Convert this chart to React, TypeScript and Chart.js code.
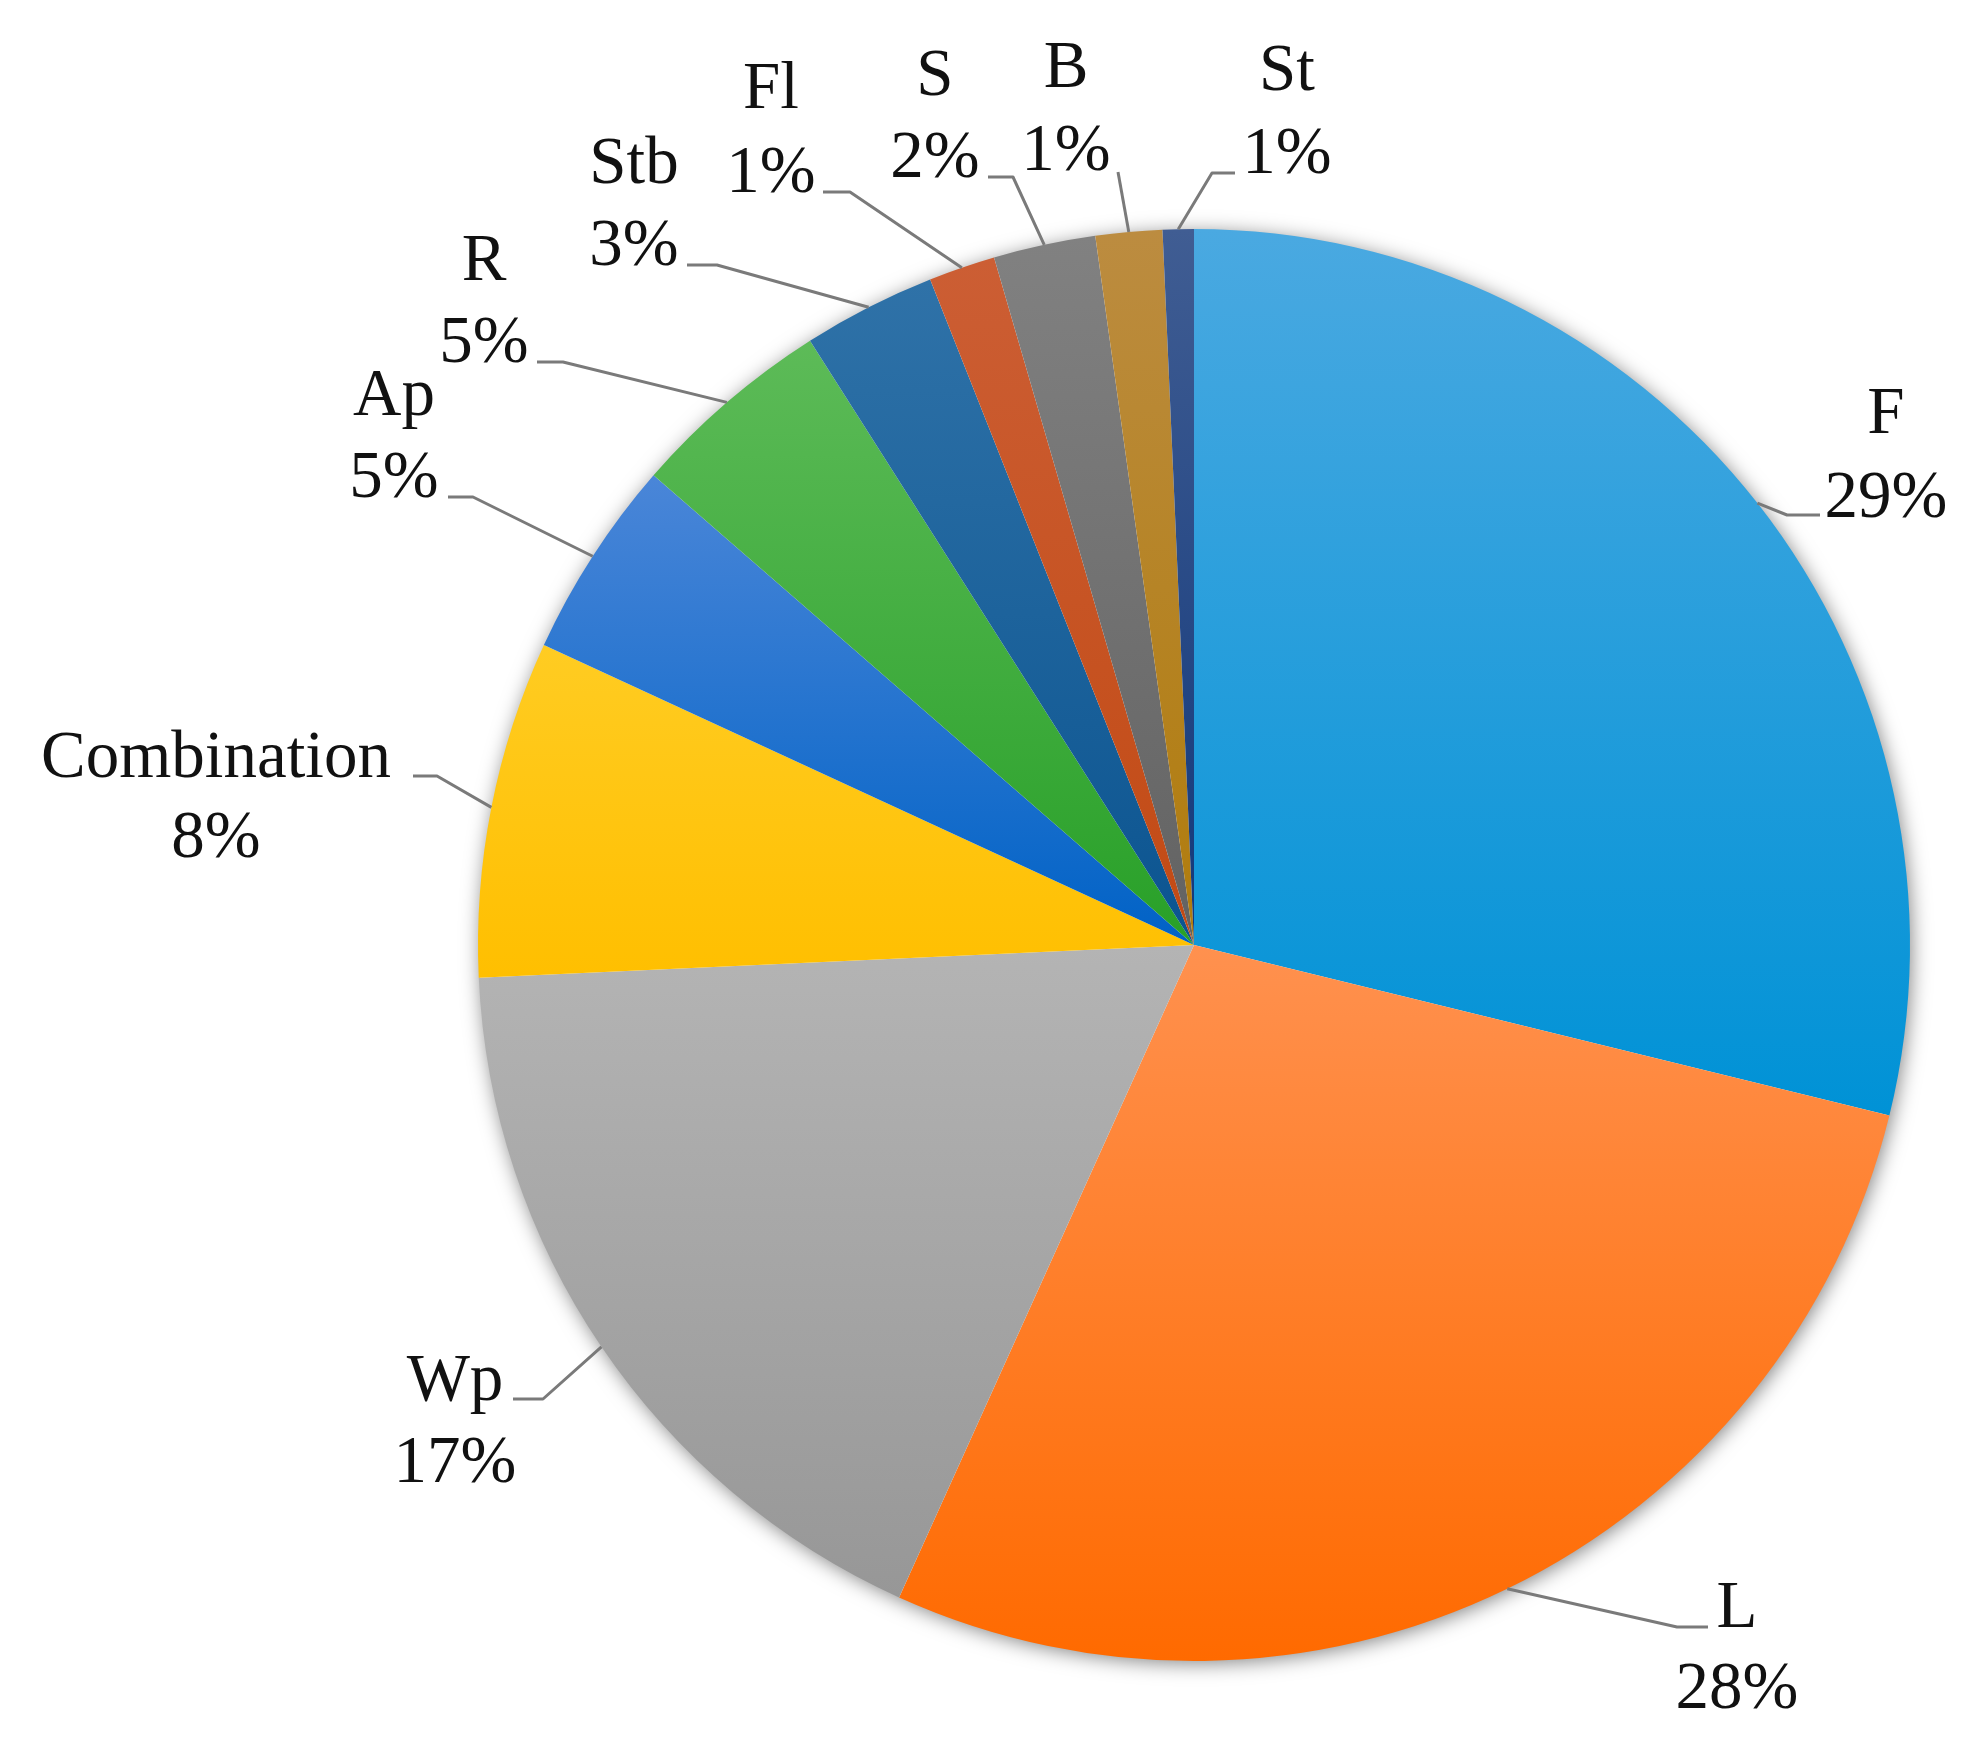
import React, { useEffect, useRef } from "react";
import { Chart, registerables } from "chart.js";

Chart.register(...registerables);

// ---- data ----
const categories = ["F", "L", "Wp", "Combination", "Ap", "R", "Stb", "Fl", "S", "B", "St"];
const shares = [28.8, 27.9, 17.5, 7.6, 4.5, 4.6, 3.0, 1.5, 2.3, 1.5, 0.7];
const percentLabels = ["29%", "28%", "17%", "8%", "5%", "5%", "3%", "1%", "2%", "1%", "1%"];

// ---- styles ----
const topColors = ["#4AA9E1", "#FF914F", "#B4B4B4", "#FFCC22", "#4A86D8", "#5DBB58", "#2F72A8", "#CC5E34", "#818181", "#BC8C40", "#405D93"];
const bottomColors = ["#0092D6", "#FF6A00", "#979797", "#FFBF00", "#0062C6", "#28A028", "#0B5490", "#C24A14", "#626262", "#B07C0C", "#12387A"];

// label layout, offsets from the pie centre (px):
// [textCenterX, baselineName, baselinePct, kneeX, kneeY, endX, endY]
const labelLayout = [
  [692, -512, -428, 593, -430, 626, -430],
  [543, 682, 763, 483, 682, 514, 682],
  [-739, 455, 537, -651, 454, -681, 454],
  [-978, -168, -88, -757, -169, -781, -169],
  [-800, -530, -448, -721, -448, -746, -448],
  [-710, -665, -583, -631, -583, -657, -583],
  [-560, -762, -680, -477, -680, -507, -680],
  [-423, -837, -753, -344, -753, -371, -753],
  [-259, -850, -768, -181, -768, -206, -768],
  [-128, -858, -775, -76, -773, -76, -773],
  [93, -855, -772, 18, -772, 41, -772],
];

const FONT = '67px "Liberation Serif", "DejaVu Serif", serif';

function sliceGradient(ctx: any) {
  const chart = ctx.chart;
  const area = chart.chartArea;
  const i = ctx.dataIndex;
  if (!area || i == null) return topColors[i ?? 0];
  const cx = (area.left + area.right) / 2;
  const cy = (area.top + area.bottom) / 2;
  const R = Math.min(area.right - area.left, area.bottom - area.top) / 2;
  const total = shares.reduce((a, b) => a + b, 0);
  let acc = 0;
  for (let j = 0; j < i; j++) acc += shares[j];
  const a0 = -Math.PI / 2 + (acc / total) * Math.PI * 2;
  const a1 = a0 + (shares[i] / total) * Math.PI * 2;
  const ys = [cy, cy + R * Math.sin(a0), cy + R * Math.sin(a1)];
  for (const t of [-Math.PI / 2, Math.PI / 2, (3 * Math.PI) / 2]) {
    if (t >= a0 && t <= a1) ys.push(cy + R * Math.sin(t));
  }
  const y0 = Math.min(...ys);
  const y1 = Math.max(...ys);
  const g = chart.ctx.createLinearGradient(0, y0, 0, Math.max(y1, y0 + 1));
  g.addColorStop(0, topColors[i]);
  g.addColorStop(1, bottomColors[i]);
  return g;
}

const shadowPlugin = {
  id: "pieShadow",
  beforeDatasetsDraw(chart: any) {
    const meta = chart.getDatasetMeta(0);
    const el = meta.data[0];
    if (!el) return;
    const { x, y, outerRadius } = el.getProps(["x", "y", "outerRadius"], true);
    const c = chart.ctx;
    c.save();
    c.shadowColor = "rgba(0,0,0,0.5)";
    c.shadowBlur = 20;
    c.shadowOffsetX = 2;
    c.shadowOffsetY = 3;
    c.beginPath();
    c.arc(x, y, outerRadius - 1, 0, Math.PI * 2);
    c.fillStyle = "#ffffff";
    c.fill();
    c.restore();
  },
};

const labelPlugin = {
  id: "outerLabels",
  afterDatasetsDraw(chart: any) {
    const meta = chart.getDatasetMeta(0);
    const c = chart.ctx;
    c.save();
    meta.data.forEach((el: any, i: number) => {
      const { x, y, startAngle, endAngle, outerRadius } = el.getProps(
        ["x", "y", "startAngle", "endAngle", "outerRadius"],
        true
      );
      const mid = (startAngle + endAngle) / 2;
      const px = x + outerRadius * Math.cos(mid);
      const py = y + outerRadius * Math.sin(mid);
      const [tx, b1, b2, kx, ky, ex, ey] = labelLayout[i];
      c.beginPath();
      c.moveTo(px, py);
      c.lineTo(x + kx, y + ky);
      c.lineTo(x + ex, y + ey);
      c.strokeStyle = "#7A7A7A";
      c.lineWidth = 3;
      c.lineJoin = "round";
      c.stroke();
      c.fillStyle = "#111111";
      c.font = FONT;
      c.textAlign = "center";
      c.textBaseline = "alphabetic";
      c.fillText(categories[i], x + tx, y + b1);
      c.fillText(percentLabels[i], x + tx, y + b2);
    });
    c.restore();
  },
};

export default function App() {
  const ref = useRef<HTMLCanvasElement | null>(null);
  useEffect(() => {
    if (!ref.current) return;
    const chart = new Chart(ref.current, {
      type: "pie",
      data: {
        labels: categories,
        datasets: [
          {
            data: shares,
            backgroundColor: sliceGradient as any,
            borderWidth: 0,
          },
        ],
      },
      options: {
        responsive: false,
        animation: false,
        layout: { padding: { left: 478, right: 63, top: 229, bottom: 89 } },
        plugins: {
          legend: { display: false },
          tooltip: { enabled: false },
        },
      },
      plugins: [shadowPlugin, labelPlugin],
    });
    return () => chart.destroy();
  }, []);
  return (
    <div style={{ position: "absolute", left: 0, top: 0, width: 1973, height: 1750, background: "#ffffff" }}>
      <canvas ref={ref} width={1973} height={1750} style={{ display: "block" }} />
    </div>
  );
}
